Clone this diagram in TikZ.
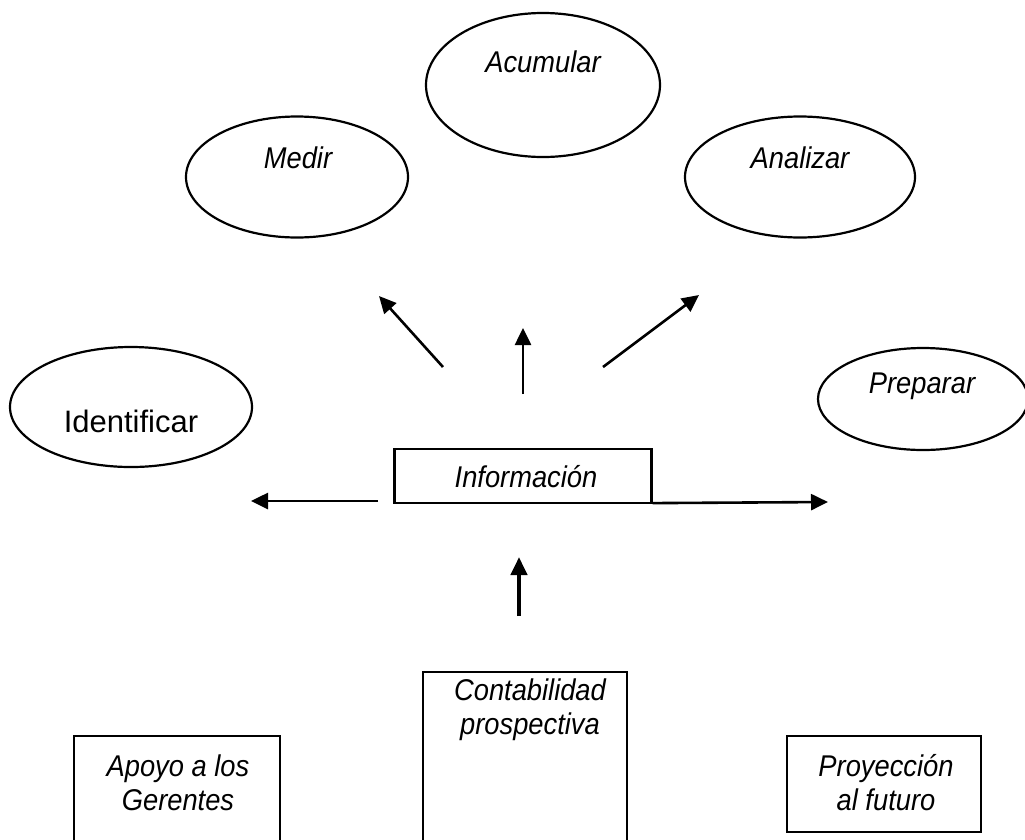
\documentclass[tikz,border=0pt]{standalone}
\usepackage{fontspec}
\setmainfont{Liberation Sans}[FakeStretch=0.91]
\usetikzlibrary{shapes.geometric,arrows.meta}
\begin{document}
\begin{tikzpicture}[x=1pt,y=-1pt,
  oval/.style={draw,line width=2.2pt,ellipse,inner sep=0pt},
  box/.style={draw,line width=2.2pt,inner sep=0pt},
  lbl/.style={font=\fontsize{30}{34}\selectfont\itshape,inner sep=0pt,anchor=center},
  arr/.style={line width=2.6pt,-{Triangle[length=17pt,width=16pt]}},
  bigarr/.style={line width=4.2pt,-{Triangle[length=18pt,width=16pt]}}]
\useasboundingbox (0,0) rectangle (1025,839);
\clip (0,0) rectangle (1025,839);

% ovals of the five activities
\node[oval,minimum width=234pt,minimum height=144pt] (acum) at (543,85) {};
\node[oval,minimum width=222pt,minimum height=121pt] (medir) at (297,177) {};
\node[oval,minimum width=230pt,minimum height=121pt] (anal) at (800,177) {};
\node[oval,minimum width=242pt,minimum height=120pt] (ident) at (131,407) {};
\node[oval,minimum width=210pt,minimum height=102pt] (prep) at (923,399) {};

\node[lbl] (tacum) at (543,62) {Acumular};
\node[lbl] (tmedir) at (298,158) {Medir};
\node[lbl] (tanal) at (800,158) {Analizar};
\node[lbl,font=\fontsize{31}{34}\selectfont\addfontfeature{FakeStretch=1.0}] (tident) at (131,421) {Identificar};
\node[lbl] (tprep) at (922,386) {Preparar};

% central box
\node[box,minimum width=257pt,minimum height=54pt] (info) at (523,476) {};
\node[lbl] (tinfo) at (526,477) {Información};

% bottom boxes (running off the lower edge)
\draw[line width=2.2pt] (74,880) |- (280,736) -- (280,880);
\draw[line width=2.2pt] (423,880) |- (627,672) -- (627,880);
\node[box,minimum width=194pt,minimum height=96pt] (proy) at (884,784) {};

\node[lbl,align=center] (tapoyo) at (178,783) {Apoyo a los\\Gerentes};
\node[lbl,align=center] (tconta) at (530,710) {Contabilidad\\prospectiva};
\node[lbl,align=center] (tproy) at (886,783) {Proyección\\al futuro};

% arrows leaving the information box
\coordinate (a1s) at (443,367); \coordinate (a1e) at (379,296);
\coordinate (a2s) at (523,394); \coordinate (a2e) at (523,328);
\coordinate (a3s) at (603,367); \coordinate (a3e) at (699,295);
\coordinate (a4s) at (378,501); \coordinate (a4e) at (251,501);
\coordinate (a5e) at (828,502);
\coordinate (a6s) at (519,616); \coordinate (a6e) at (519,557);

\draw[arr] (a1s) -- (a1e);
\draw[arr] (a2s) -- (a2e);
\draw[arr] (a3s) -- (a3e);
\draw[arr] (a4s) -- (a4e);
\draw[arr] (info.south east) ++(0,-1) -- (a5e);
\draw[bigarr] (a6s) -- (a6e);
\end{tikzpicture}
\end{document}
